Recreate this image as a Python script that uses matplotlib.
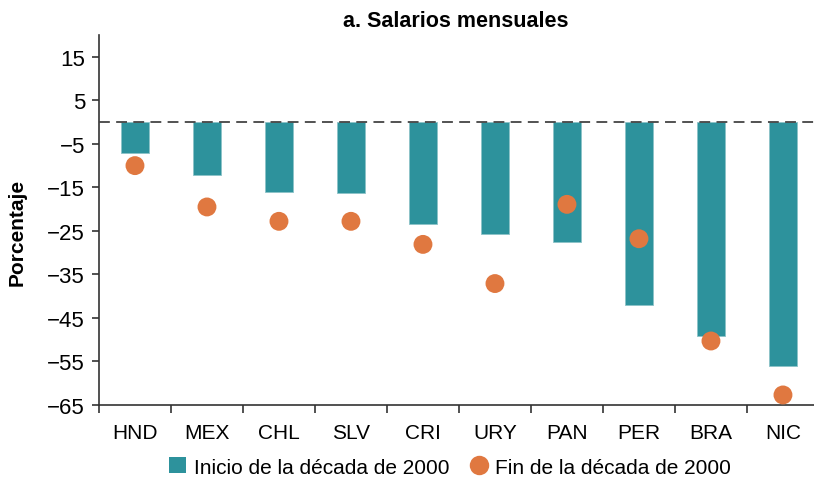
import matplotlib.pyplot as plt
from matplotlib.lines import Line2D
from matplotlib.patches import Patch
import numpy as np

plt.rcParams["font.family"] = ["Liberation Sans", "DejaVu Sans"]

paises = ["HND", "MEX", "CHL", "SLV", "CRI", "URY", "PAN", "PER", "BRA", "NIC"]
inicio = [-7.1, -12.1, -16.0, -16.2, -23.5, -25.6, -27.5, -42.1, -49.2, -56.1]
fin = [-10.0, -19.5, -22.8, -22.8, -28.1, -37.1, -18.9, -26.8, -50.3, -62.7]
yticks = [15, 5, -5, -15, -25, -35, -45, -55, -65]

teal = "#2D929C"
naranja = "#E07840"

fig = plt.figure(figsize=(8.14, 4.81), dpi=100, facecolor="white")
ax = fig.add_axes([0.1216, 0.156, 0.8845, 0.769])

x = np.arange(len(paises))
ax.bar(x, inicio, width=0.4, color=teal, edgecolor="#8CC3C8", linewidth=0.6, zorder=2)
ax.scatter(x, fin, s=185, color=naranja, edgecolors="none", zorder=3)
ax.axhline(0, color="#444444", linestyle=(0, (6, 3.5)), linewidth=1.3, zorder=4)

ax.set_xlim(-0.5, 9.5)
ax.set_ylim(-65, 20)
ax.set_yticks(yticks)
ax.set_yticklabels([f"{v}".replace("-", "\u2212") for v in yticks], fontsize=16)
ax.set_xticks(x)
ax.set_xticklabels(paises, fontsize=15)
ax.set_xticks(np.arange(-0.5, 10, 1), minor=True)
ax.tick_params(axis="x", which="major", length=0, pad=13)
ax.tick_params(axis="x", which="minor", length=6, width=1.2, color="#333333")
ax.tick_params(axis="y", length=5, width=1.2, color="#333333", pad=5)

for s in ["top", "right"]:
    ax.spines[s].set_visible(False)
for s in ["left", "bottom"]:
    ax.spines[s].set_color("#333333")
    ax.spines[s].set_linewidth(1.2)

ax.set_ylabel("Porcentaje", fontsize=15, fontweight="bold")
ax.yaxis.set_label_coords(-0.10, 0.47)
fig.text(0.56, 0.955, "a. Salarios mensuales", ha="center", va="center",
         fontsize=15.5, fontweight="bold")

handles = [
    Patch(facecolor=teal, edgecolor="none"),
    Line2D([], [], marker="o", linestyle="none", markersize=14,
           markerfacecolor=naranja, markeredgecolor="none"),
]
fig.legend(handles, ["Inicio de la década de 2000", "Fin de la década de 2000"],
           loc="center", bbox_to_anchor=(0.553, 0.027), ncol=2, frameon=False,
           fontsize=15, handlelength=0.8, handleheight=0.8, handletextpad=0.4,
           columnspacing=1.0)

fig.savefig("out.png", dpi=100, facecolor="white")
